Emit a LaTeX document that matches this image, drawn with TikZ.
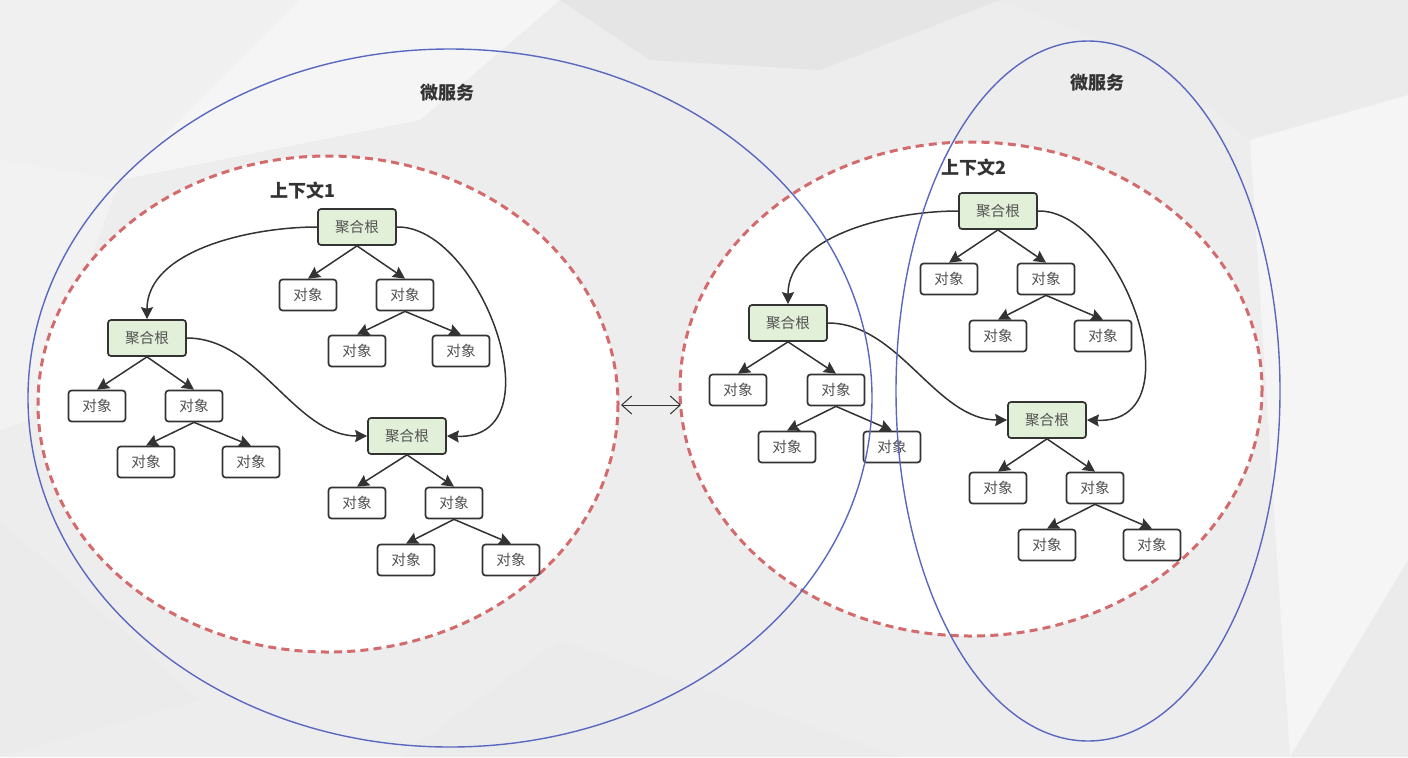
\documentclass[tikz,border=0pt]{standalone}
\usepackage{fontspec}
\newfontfamily\cjk{Noto Sans CJK SC}
\usetikzlibrary{arrows.meta}
\definecolor{bgbase}{HTML}{EDEDEE}
\definecolor{ink}{HTML}{333333}
\definecolor{rootfill}{HTML}{E2F0D9}
\definecolor{ctxred}{HTML}{D36A6C}
\definecolor{svcblue}{HTML}{5A68C0}
\tikzset{
  objbox/.style={draw=ink, fill=white, rounded corners=1.5pt, line width=0.85pt,
    minimum width=28.5pt, minimum height=15.5pt, inner sep=0pt, text=ink!85,
    font=\cjk\fontsize{7.3}{8}\selectfont},
  rootbox/.style={objbox, fill=rootfill, minimum width=39pt, minimum height=18pt},
  arr/.style={draw=ink, line width=0.75pt, -{Stealth[length=6pt,width=6pt,inset=0.8pt]}},
  ctx/.style={draw=ctxred, line width=1.5pt, dash pattern=on 4pt off 2.6pt, fill=white},
  svc/.style={draw=svcblue, line width=0.7pt},
  title/.style={text=ink, font=\cjk\bfseries\fontsize{9}{10}\selectfont, inner sep=0pt},
}
\begin{document}
\begin{tikzpicture}[x=0.5pt, y=-0.5pt]
\useasboundingbox (0,0) rectangle (1408,757);
% low-poly backdrop
\fill[bgbase] (0,0) rectangle (1408,757);
\fill[black!6]  (0,0) -- (300,0) -- (120,180) -- (0,160) -- cycle;
\fill[black!4]  (300,0) -- (560,0) -- (420,120) -- (120,180) -- cycle;
\fill[black!10] (560,0) -- (1000,0) -- (820,70) -- (650,60) -- cycle;
\fill[black!8]  (1000,0) -- (1408,0) -- (1408,95) -- (1250,140) -- (1150,60) -- cycle;
\fill[black!4]  (1250,140) -- (1408,95) -- (1408,757) -- (1290,757) -- cycle;
\fill[black!8]  (0,520) -- (200,700) -- (0,757) -- cycle;
\fill[black!8]  (560,640) -- (900,757) -- (400,757) -- cycle;
\fill[black!5]  (0,160) -- (120,180) -- (30,420) -- (0,430) -- cycle;
\fill[black!8]  (1290,757) -- (1408,560) -- (1408,757) -- cycle;

% bounded contexts
\path[ctx] (328,404) ellipse [x radius=290, y radius=248];
\path[ctx] (971,389) ellipse [x radius=291, y radius=247];

\node[title] (svc1) at (447,93) {微服务};
\node[title] (svc2) at (1097,83) {微服务};
\node[title] (ctx1) at (303,191) {上下文1};
\node[title] (ctx2) at (974,168) {上下文2};

% context 1
\node[rootbox] (a1) at (357,227) {聚合根};
\node[objbox] (a1l) at (308,295) {对象};
\node[objbox] (a1r) at (405,295) {对象};
\node[objbox] (a1rl) at (357,351) {对象};
\node[objbox] (a1rr) at (461,351) {对象};
\node[rootbox] (a2) at (147,338) {聚合根};
\node[objbox] (a2l) at (97,406) {对象};
\node[objbox] (a2r) at (194,406) {对象};
\node[objbox] (a2rl) at (146,462) {对象};
\node[objbox] (a2rr) at (251,462) {对象};
\node[rootbox] (a3) at (407,436) {聚合根};
\node[objbox] (a3l) at (357,503) {对象};
\node[objbox] (a3r) at (454,503) {对象};
\node[objbox] (a3rl) at (406,560) {对象};
\node[objbox] (a3rr) at (511,560) {对象};

\foreach \p/\c in {a1/a1l, a1/a1r, a1r/a1rl, a1r/a1rr,
                   a2/a2l, a2/a2r, a2r/a2rl, a2r/a2rr,
                   a3/a3l, a3/a3r, a3r/a3rl, a3r/a3rr}
  \draw[arr] (\p.south) -- (\c.north);
\draw[arr] (a1.west) to[out=180, in=90, looseness=0.9] (a2.north);
\draw[arr] (a1.east) .. controls (480,225) and (560,440) .. (a3.east);
\draw[arr] (a2.east) to[out=0, in=180, looseness=0.9] (a3.west);

% context 2
\node[rootbox] (b1) at (998,211) {聚合根};
\node[objbox] (b1l) at (949,279) {对象};
\node[objbox] (b1r) at (1046,279) {对象};
\node[objbox] (b1rl) at (998,336) {对象};
\node[objbox] (b1rr) at (1103,336) {对象};
\node[rootbox] (b2) at (788,323) {聚合根};
\node[objbox] (b2l) at (738,390) {对象};
\node[objbox] (b2r) at (836,390) {对象};
\node[objbox] (b2rl) at (787,447) {对象};
\node[objbox] (b2rr) at (892,447) {对象};
\node[rootbox] (b3) at (1047,420) {聚合根};
\node[objbox] (b3l) at (998,488) {对象};
\node[objbox] (b3r) at (1095,488) {对象};
\node[objbox] (b3rl) at (1047,545) {对象};
\node[objbox] (b3rr) at (1152,545) {对象};

\foreach \p/\c in {b1/b1l, b1/b1r, b1r/b1rl, b1r/b1rr,
                   b2/b2l, b2/b2r, b2r/b2rl, b2r/b2rr,
                   b3/b3l, b3/b3r, b3r/b3rl, b3r/b3rr}
  \draw[arr] (\p.south) -- (\c.north);
\draw[arr] (b1.west) to[out=180, in=90, looseness=0.9] (b2.north);
\draw[arr] (b1.east) .. controls (1120,209) and (1200,424) .. (b3.east);
\draw[arr] (b2.east) to[out=0, in=180, looseness=0.9] (b3.west);

% link between the two contexts
\coordinate (lnkL) at (621,405);
\coordinate (lnkR) at (681,405);
\draw[ink, line width=0.5pt, {Straight Barb[length=5pt,width=9pt]}-{Straight Barb[length=5pt,width=9pt]}] (lnkL) -- (lnkR);

% microservice boundaries
\draw[svc] (450,398) ellipse [x radius=422, y radius=349];
\draw[svc] (1088,391) ellipse [x radius=192, y radius=350];
\end{tikzpicture}
\end{document}
